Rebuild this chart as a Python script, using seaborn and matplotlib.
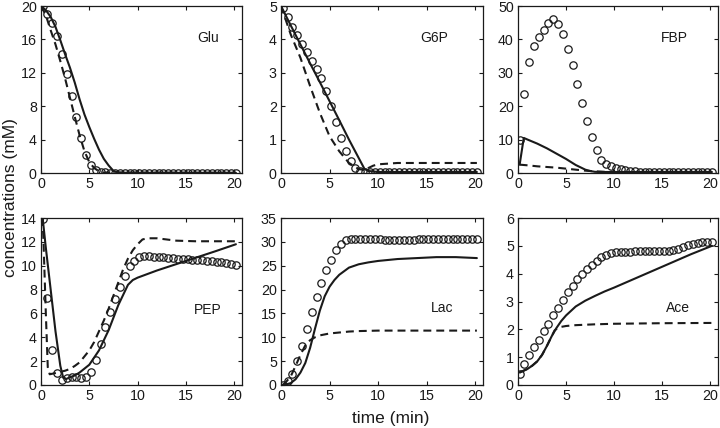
import matplotlib
matplotlib.use("Agg")
import matplotlib.pyplot as plt
from matplotlib import font_manager
import seaborn as sns

sns.set_theme(style="ticks")
_avail = {f.name for f in font_manager.fontManager.ttflist}
if "Liberation Sans Narrow" in _avail:
    FAM, TICK_FS, NAME_FS, LAB_FS = "Liberation Sans Narrow", 11, 11, 14
else:
    FAM, TICK_FS, NAME_FS, LAB_FS = "Liberation Sans", 10.3, 10, 12.5
plt.rcParams['font.family'] = [FAM, 'DejaVu Sans']

# ---------------- data ----------------
t_obs = [0.17, 0.67, 1.17, 1.67, 2.17, 2.67, 3.17, 3.67, 4.17, 4.67,
         5.17, 5.67, 6.17, 6.67, 7.17, 7.67, 8.17, 8.67, 9.17, 9.67,
         10.17, 10.67, 11.17, 11.67, 12.17, 12.67, 13.17, 13.67, 14.17, 14.67,
         15.17, 15.67, 16.17, 16.67, 17.17, 17.67, 18.17, 18.67, 19.17, 19.67,
         20.17]

glu_obs = [20.0, 19.1, 18.0, 16.4, 14.3, 11.9, 9.2, 6.65, 4.2, 2.2,
           0.9, 0.3, 0.1, 0.06, 0.05, 0.05, 0.05, 0.05, 0.05, 0.05,
           0.05, 0.05, 0.05, 0.05, 0.05, 0.05, 0.05, 0.05, 0.05, 0.05,
           0.05, 0.05, 0.05, 0.05, 0.05, 0.05, 0.05, 0.05, 0.05, 0.05,
           0.05]
glu_t1 = [0, 0.5, 1, 1.5, 2, 2.5, 3, 3.5, 4, 4.5, 5, 5.5, 6, 6.5, 7, 7.5, 8, 9, 20.17]
glu_s = [20, 19.5, 18.7, 17.5, 15.9, 14.2, 12.6, 10.8, 8.8, 7.0, 5.5, 4.1, 2.8, 1.7, 0.9, 0.25, 0.05, 0.02, 0.02]
glu_t2 = [0, 0.5, 1, 1.5, 2, 2.5, 3, 3.5, 4, 4.5, 5, 5.5, 6, 6.5, 20.17]
glu_d = [20, 18.9, 17.1, 15.4, 13.4, 11.3, 9.0, 6.7, 4.5, 2.6, 1.3, 0.6, 0.2, 0.05, 0.02]

g6p_obs = [4.95, 4.67, 4.37, 4.12, 3.85, 3.61, 3.36, 3.11, 2.83, 2.46,
           2.0, 1.53, 1.05, 0.65, 0.35, 0.15, 0.06, 0.04, 0.04, 0.04,
           0.03, 0.03, 0.03, 0.03, 0.03, 0.03, 0.03, 0.03, 0.03, 0.03,
           0.03, 0.03, 0.03, 0.03, 0.03, 0.03, 0.03, 0.03, 0.03, 0.03,
           0.03]
g6p_t1 = [0, 1, 2, 3, 4, 5, 6, 7, 8, 8.6, 9, 10, 20.17]
g6p_s = [5.0, 4.42, 3.85, 3.28, 2.72, 2.15, 1.58, 1.0, 0.45, 0.12, 0.06, 0.03, 0.03]
g6p_t2 = [0, 1, 2, 3, 4, 5, 6, 7, 8, 8.7, 9, 9.5, 10, 11, 12, 20.17]
g6p_d = [5.0, 4.15, 3.45, 2.6, 1.8, 1.1, 0.65, 0.3, 0.12, 0.08, 0.15, 0.22, 0.26, 0.28, 0.3, 0.3]

fbp_obs = [9.8, 23.8, 33.2, 38.0, 40.7, 42.8, 44.8, 46.0, 44.7, 41.5,
           37.2, 32.2, 26.5, 21.0, 15.5, 10.8, 6.8, 4.0, 2.8, 2.0,
           1.6, 1.2, 0.9, 0.7, 0.5, 0.4, 0.35, 0.3, 0.3, 0.3,
           0.3, 0.3, 0.3, 0.3, 0.3, 0.3, 0.3, 0.3, 0.3, 0.3,
           0.3]
fbp_t1 = [0.17, 0.6, 1, 2, 3, 4, 5, 6, 7, 7.5, 8, 9, 20.17]
fbp_s = [2.5, 10.5, 10.0, 8.8, 7.4, 5.8, 4.2, 2.4, 1.0, 0.6, 0.35, 0.3, 0.3]
fbp_t2 = [0.17, 1, 2, 3, 4, 5, 6, 7, 8, 9, 10, 20.17]
fbp_d = [2.5, 2.3, 2.0, 1.8, 1.6, 1.3, 1.0, 0.7, 0.5, 0.35, 0.3, 0.3]

pep_obs = [13.9, 7.3, 2.9, 1.0, 0.4, 0.55, 0.7, 0.7, 0.55, 0.7,
           1.1, 2.1, 3.45, 4.85, 6.1, 7.2, 8.25, 9.15, 9.95, 10.4,
           10.75, 10.8, 10.78, 10.75, 10.72, 10.7, 10.67, 10.63, 10.6, 10.57,
           10.54, 10.5, 10.47, 10.45, 10.42, 10.38, 10.33, 10.27, 10.2, 10.12,
           10.05]
pep_t1 = [0.17, 0.5, 1, 1.5, 2, 2.3, 2.6, 3, 3.5, 4, 5, 6, 7, 8, 9, 9.5, 10, 12, 15, 18, 20.17]
pep_s = [14, 11.5, 8, 4.5, 1.6, 0.6, 0.5, 0.65, 0.8, 1.05, 1.7, 2.9, 4.6, 6.7, 8.4, 8.8, 9.0, 9.6, 10.4, 11.2, 11.8]
pep_t2 = [0.17, 0.3, 0.5, 0.7, 0.9, 1.5, 2, 2.5, 3, 3.5, 4, 4.5, 5, 5.5, 6,
          6.5, 7, 7.5, 8, 8.5, 9, 9.5, 10, 10.5, 11, 12, 13, 14, 16, 20.17]
pep_d = [14, 11, 6, 1.5, 0.9, 1.0, 1.1, 1.2, 1.35, 1.6, 1.9, 2.4, 2.9, 3.6, 4.5,
         5.4, 6.4, 7.5, 8.6, 9.7, 10.6, 11.3, 11.8, 12.2, 12.3, 12.3, 12.2, 12.1, 12.05, 12.05]

lac_obs = [0.1, 0.9, 2.4, 4.95, 8.1, 11.8, 15.2, 18.4, 21.4, 24.0,
           26.3, 28.2, 29.6, 30.3, 30.6, 30.65, 30.6, 30.6, 30.55, 30.5,
           30.5, 30.45, 30.4, 30.4, 30.35, 30.4, 30.4, 30.45, 30.5, 30.55,
           30.6, 30.6, 30.6, 30.65, 30.65, 30.6, 30.6, 30.6, 30.6, 30.55,
           30.5]
lac_t1 = [0.17, 0.5, 1, 1.5, 2, 2.5, 3, 3.5, 4, 4.5, 5, 5.5, 6, 7, 8, 9, 10, 12, 14, 16, 18, 20.17]
lac_s = [0, 0.1, 0.4, 1.2, 2.6, 4.6, 7.8, 11.8, 15.6, 18.6, 20.6, 22.0, 23.1, 24.6, 25.3, 25.7,
         26.0, 26.4, 26.6, 26.8, 26.8, 26.6]
lac_t2 = [0.17, 0.5, 1, 1.5, 2, 2.5, 3, 3.5, 4, 5, 6, 7, 8, 10, 20.17]
lac_d = [0, 0.6, 1.8, 4.0, 6.3, 8.3, 9.4, 10.0, 10.4, 10.8, 11.0, 11.2, 11.3, 11.4, 11.4]

ace_obs = [0.4, 0.76, 1.06, 1.36, 1.63, 1.93, 2.2, 2.5, 2.78, 3.07,
           3.33, 3.55, 3.8, 4.0, 4.17, 4.31, 4.46, 4.59, 4.67, 4.73,
           4.77, 4.78, 4.79, 4.79, 4.8, 4.8, 4.8, 4.8, 4.8, 4.8,
           4.8, 4.81, 4.85, 4.9, 4.96, 5.02, 5.07, 5.11, 5.14, 5.15,
           5.13]
ace_t1 = [0.17, 0.5, 1, 1.5, 2, 2.5, 3, 3.5, 4, 4.5, 5, 6, 7, 8, 9, 10, 12, 14, 16, 18, 20.17]
ace_s = [0.45, 0.5, 0.58, 0.7, 0.85, 1.08, 1.4, 1.75, 2.05, 2.3, 2.5, 2.82, 3.03, 3.2, 3.36, 3.5,
         3.8, 4.1, 4.4, 4.7, 5.0]
ace_t2 = [0.17, 0.5, 1, 1.5, 2, 2.5, 3, 3.5, 3.8, 4.2, 5, 6, 8, 10, 15, 20.17]
ace_d = [0.45, 0.5, 0.58, 0.7, 0.85, 1.08, 1.4, 1.75, 1.96, 2.07, 2.12, 2.15, 2.18, 2.2, 2.22, 2.23]

names = ["Glu", "G6P", "FBP", "PEP", "Lac", "Ace"]
x_ticks = [0, 5, 10, 15, 20]
y_tick_sets = [[0, 4, 8, 12, 16, 20], [0, 1, 2, 3, 4, 5], [0, 10, 20, 30, 40, 50],
               [0, 2, 4, 6, 8, 10, 12, 14], [0, 5, 10, 15, 20, 25, 30, 35], [0, 1, 2, 3, 4, 5, 6]]

series = [
    (glu_obs, glu_t1, glu_s, glu_t2, glu_d),
    (g6p_obs, g6p_t1, g6p_s, g6p_t2, g6p_d),
    (fbp_obs, fbp_t1, fbp_s, fbp_t2, fbp_d),
    (pep_obs, pep_t1, pep_s, pep_t2, pep_d),
    (lac_obs, lac_t1, lac_s, lac_t2, lac_d),
    (ace_obs, ace_t1, ace_s, ace_t2, ace_d),
]

# ---------------- layout ----------------
W, H = 720, 428
fig = plt.figure(figsize=(W / 100, H / 100), dpi=100)
lefts = [41, 281, 518]
widths = [201, 202, 200]
tops = [6, 218]
ph = 167
label_pos = [(0.83, 0.81), (0.76, 0.81), (0.78, 0.81), (0.83, 0.45), (0.80, 0.46), (0.80, 0.46)]

for i, name in enumerate(names):
    r, c = divmod(i, 3)
    ax = fig.add_axes([lefts[c] / W, 1 - (tops[r] + ph) / H, widths[c] / W, ph / H])
    obs, t1, s1, t2, d2 = series[i]
    sns.lineplot(x=t1, y=s1, ax=ax, color="k", lw=1.5, estimator=None, sort=False)
    sns.lineplot(x=t2, y=d2, ax=ax, color="k", lw=1.5, estimator=None, sort=False,
                 linestyle=(0, (3.8, 2.4)))
    sns.lineplot(x=t_obs, y=obs, ax=ax, color="k", estimator=None, sort=False,
                 linestyle="", marker="o", markersize=5.3, markerfacecolor="none",
                 markeredgecolor="k", markeredgewidth=0.9)
    yt = y_tick_sets[i]
    ax.set_xlim(0, 20.8)
    ax.set_ylim(yt[0], yt[-1])
    ax.set_xticks(x_ticks)
    ax.set_yticks(yt)
    ax.tick_params(direction="in", top=True, right=True, length=3, width=0.8,
                   labelsize=TICK_FS, pad=3, colors="k")
    for sp in ax.spines.values():
        sp.set_linewidth(0.9)
        sp.set_color("k")
    ax.set_xlabel("")
    ax.set_ylabel("")
    ax.text(label_pos[i][0], label_pos[i][1], name, transform=ax.transAxes,
            ha="center", va="center", fontsize=NAME_FS, color="k")

fig.text(391 / W, 1 - 418 / H, "time (min)", ha="center", va="center", fontsize=LAB_FS, color="k")
fig.text(11 / W, 1 - 198 / H, "concentrations (mM)", ha="center", va="center",
         rotation=90, fontsize=LAB_FS, color="k")

fig.savefig("out.png", dpi=100, facecolor="white")
